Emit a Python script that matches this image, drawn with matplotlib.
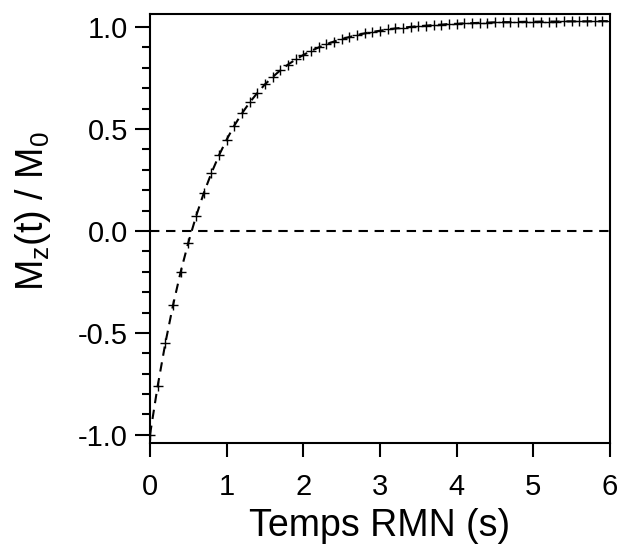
import numpy as np
import matplotlib
matplotlib.use("Agg")
import matplotlib.pyplot as plt
from matplotlib.ticker import MultipleLocator

# temps RMN (s), one point every 0.1 s
t_rmn = [round(0.1 * k, 1) for k in range(61)]

# Mz(t)/M0
mz_m0 = [-1.000, -0.761, -0.551, -0.365, -0.201, -0.057, 0.071, 0.184,
         0.283, 0.371, 0.448, 0.517, 0.577, 0.630, 0.677, 0.719, 0.755,
         0.788, 0.816, 0.841, 0.863, 0.883, 0.900, 0.916, 0.929, 0.941,
         0.951, 0.961, 0.969, 0.976, 0.982, 0.988, 0.993, 0.997, 1.001,
         1.004, 1.007, 1.010, 1.012, 1.015, 1.016, 1.018, 1.019, 1.021,
         1.022, 1.023, 1.024, 1.024, 1.025, 1.026, 1.026, 1.027, 1.027,
         1.027, 1.028, 1.028, 1.028, 1.028, 1.029, 1.029, 1.029]

xticks = [0, 1, 2, 3, 4, 5, 6]
yticks = [-1.0, -0.5, 0.0, 0.5, 1.0]

plt.rcParams['font.family'] = ['Liberation Sans', 'DejaVu Sans']
plt.rcParams['mathtext.default'] = 'regular'

fig = plt.figure(figsize=(6.19, 5.47), dpi=100)
ax = fig.add_axes([0.2423, 0.1901, 0.7432, 0.7843])

# fit curve and zero line
ax.plot(t_rmn, mz_m0, color='black', lw=1.5, dashes=(4.5, 3.2))
ax.plot([0, 6], [0, 0], color='black', lw=1.5, dashes=(4.5, 3.2))
# data points
ax.plot(t_rmn, mz_m0, ls='none', marker='+', ms=7.5, mew=1.0, color='black')

ax.set_xlim(0, 6)
ax.set_ylim(-1.04, 1.064)
ax.set_xticks(xticks)
ax.set_yticks(yticks)
ax.set_xticklabels([str(v) for v in xticks])
ax.set_yticklabels(['%.1f' % v for v in yticks])
ax.yaxis.set_minor_locator(MultipleLocator(0.1))

ax.tick_params(axis='both', which='both', direction='out', top=False, right=False,
               width=1.5, labelsize=21)
ax.tick_params(axis='y', which='major', length=11, pad=5)
ax.tick_params(axis='y', which='minor', length=6)
ax.tick_params(axis='x', which='major', length=10, pad=11.5)
for sp in ax.spines.values():
    sp.set_linewidth(1.5)

ax.set_xlabel('Temps RMN (s)', fontsize=27, labelpad=5)
ax.set_ylabel('M$_z$(t) / M$_0$', fontsize=27)
ax.yaxis.set_label_coords(-0.21, 0.54)

fig.savefig('out.png', dpi=100)
